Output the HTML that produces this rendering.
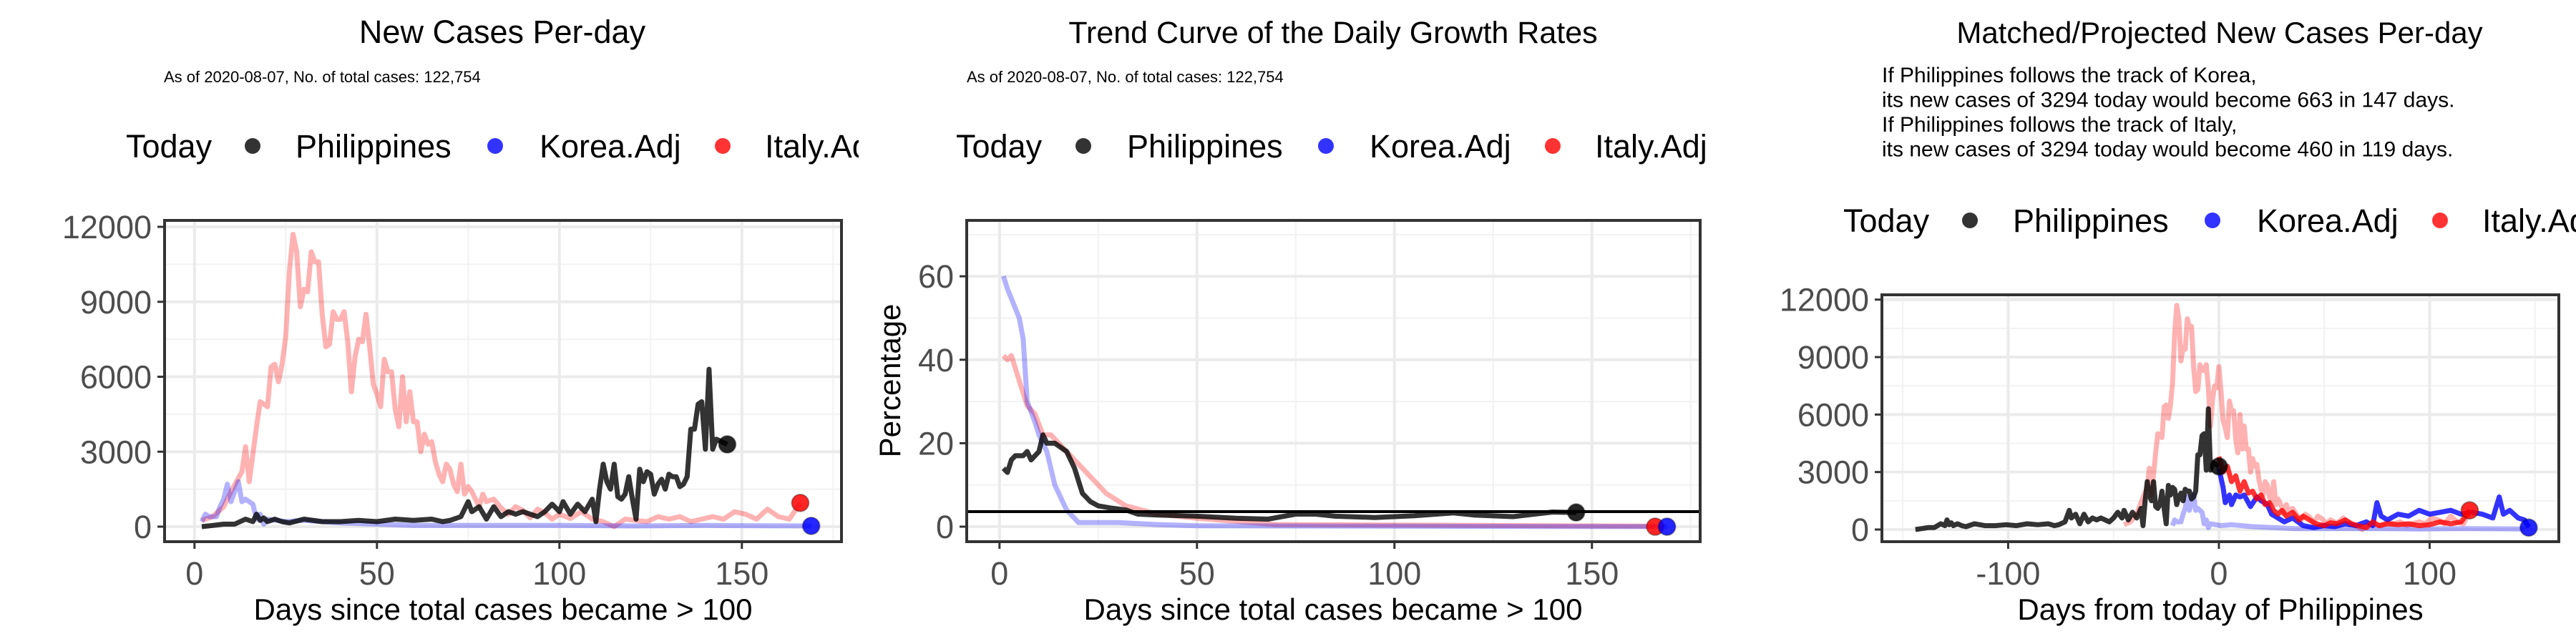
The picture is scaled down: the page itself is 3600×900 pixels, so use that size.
<!DOCTYPE html>
<html><head><meta charset="utf-8"><style>
html,body{margin:0;padding:0;background:#fff}
svg{display:block;font-family:"Liberation Sans",sans-serif}
</style></head><body>
<svg id="chart" width="3600" height="900" viewBox="0 0 3600 900" xmlns="http://www.w3.org/2000/svg">
<rect width="3600" height="900" fill="#fff"/>
<g id="p1"></g>
<g id="p2"></g>
<g id="p3"></g>
</svg>
<script>
// ---- Panel 1 data: [day, new cases]
const p1Philippines = [[2,0],[5,50],[8,100],[11,100],[14,300],[16,200],[17,500],[18,250],[19,350],[20,200],[22,300],[24,200],[26,150],[30,300],[35,200],[40,200],[45,250],[50,200],[55,300],[60,250],[65,300],[68,200],[70,250],[73,400],[75,1000],[76,600],[78,800],[80,300],[82,800],[84,400],[86,600],[88,500],[90,600],[92,500],[94,400],[96,600],[98,900],[100,600],[101,1000],[103,500],[105,900],[107,600],[109,1100],[110,200],[111,1500],[112,2500],[113,1800],[114,1500],[115,2500],[116,1200],[117,1100],[118,1300],[119,2000],[120,1100],[121,300],[122,2300],[123,1800],[124,2200],[125,2100],[126,1300],[127,1700],[128,1900],[129,1500],[130,2100],[131,2000],[132,2000],[133,1600],[134,1700],[135,2000],[136,3900],[137,3900],[138,4900],[139,5000],[140,3100],[141,6300],[142,3100],[143,3500],[146,3294]];
const p1Italy = [[2,250],[5,400],[8,800],[10,1400],[13,2200],[14,3200],[15,1800],[17,4000],[18,5000],[20,4800],[21,6400],[22,6500],[23,5800],[24,6500],[25,7600],[26,10200],[27,11700],[28,11000],[29,8800],[30,9500],[31,9400],[32,11000],[33,10600],[34,10600],[35,8500],[36,7200],[37,7300],[38,8600],[39,8300],[40,8300],[41,8600],[42,7400],[43,5400],[44,6800],[45,7500],[46,7400],[47,8500],[48,7200],[49,5700],[50,5300],[51,4800],[52,6700],[53,6200],[54,6200],[55,4700],[56,4000],[57,6000],[58,4200],[59,5400],[60,4200],[61,4200],[62,3000],[63,3700],[64,3300],[65,3400],[66,2600],[67,2100],[68,1800],[69,2500],[70,2300],[71,1700],[72,1400],[73,2500],[74,1300],[75,1600],[76,1400],[77,1100],[78,800],[79,1300],[80,1000],[82,1100],[84,750],[86,500],[88,800],[90,650],[92,350],[94,700],[96,550],[98,300],[100,500],[103,330],[106,600],[109,300],[112,200],[115,0],[118,300],[121,250],[124,200],[127,400],[130,300],[133,400],[136,200],[139,300],[142,400],[145,300],[148,600],[151,500],[154,300],[157,700],[160,400],[163,300],[166,950]];
const p1Korea = [[2,200],[3,500],[4,400],[6,400],[7,800],[8,1100],[9,1700],[10,1000],[12,1800],[13,1000],[14,1100],[16,900],[17,300],[18,500],[19,100],[20,300],[25,200],[30,250],[40,150],[50,100],[60,50],[80,50],[100,50],[120,30],[140,50],[150,40],[169,30]];
const p1XTicks = [0,50,100,150];
const p1YTicks = [0,3000,6000,9000,12000];
// ---- Panel 2 data: [day, percentage]
const p2Philippines = [[1,14],[2,13],[3,16],[4,17],[6,17],[7,18],[8,16],[10,18],[11,22],[12,20],[14,20],[17,18],[19,14],[21,8],[23,6],[25,5],[28,4.5],[32,4],[35,3],[40,2.8],[50,2.5],[60,2],[68,1.8],[75,3],[80,3],[85,2.5],[95,2.2],[105,2.6],[115,3.3],[120,2.8],[130,2.4],[140,3.5],[146,3.4]];
const p2Italy = [[1,41],[2,40],[3,41],[5,35],[7,29],[9,27],[11,22],[13,22],[15,20],[18,17],[22,13],[27,8],[32,5],[40,3],[50,2],[70,0.5],[166,0.1]];
const p2Korea = [[1,60],[2,57],[5,50],[6,45],[7,30],[9,25],[10,22],[12,18],[14,10],[17,4],[20,1],[30,1],[40,0.5],[50,0.2],[169,0]];
const p2RefLine = 3.6;
const p2XTicks = [0,50,100,150];
const p2YTicks = [0,20,40,60];
// ---- Panel 3 data
const p3PhilShift = -146, p3ItalyShift = -47, p3KoreaShift = -24;
const p3ItalyProj = [[0,3800],[2,3000],[4,3300],[6,2500],[8,2800],[10,2000],[12,2500],[14,1900],[16,2000],[18,1600],[20,1800],[22,1300],[24,1400],[26,1000],[28,800],[30,1000],[32,700],[35,900],[38,500],[40,700],[43,500],[46,300],[50,200],[53,350],[56,300],[60,500],[63,300],[66,200],[70,100],[73,400],[76,200],[80,300],[85,250],[90,300],[95,200],[100,250],[105,400],[110,300],[115,400],[119,1000]];
const p3KoreaProj = [[0,3200],[2,2200],[3,1400],[5,1800],[6,1300],[8,1800],[10,1700],[12,1800],[15,1200],[18,1700],[20,1500],[23,1300],[25,800],[28,600],[31,400],[35,600],[40,200],[45,100],[50,200],[55,150],[60,300],[65,200],[70,400],[73,200],[75,1400],[77,700],[80,500],[85,800],[90,700],[95,1000],[100,800],[105,900],[110,1000],[115,800],[120,900],[125,800],[130,600],[133,1700],[135,800],[138,1000],[142,600],[145,500],[147,100]];
const p3XTicks = [-100,0,100];
const p3YTicks = [0,3000,6000,9000,12000];

const NS="http://www.w3.org/2000/svg";
function mk(parent,tag,attrs,text){const e=document.createElementNS(NS,tag);for(const k in attrs)e.setAttribute(k,attrs[k]);if(text!==undefined)e.textContent=text;parent.appendChild(e);return e;}

function panel(g,cfg){
  const sx=v=>cfg.x0+(v-cfg.xmin)*(cfg.x1-cfg.x0)/(cfg.xmax-cfg.xmin);
  const sy=v=>cfg.y1-(v-cfg.ymin)*(cfg.y1-cfg.y0)/(cfg.ymax-cfg.ymin);
  cfg.xMinor.forEach(v=>{const l=mk(g,'line',{x1:sx(v),x2:sx(v),y1:cfg.y0,y2:cfg.y1,stroke:'#f2f2f2','stroke-width':2});});
  cfg.yMinor.forEach(v=>{const l=mk(g,'line',{x1:cfg.x0,x2:cfg.x1,y1:sy(v),y2:sy(v),stroke:'#f2f2f2','stroke-width':2});});
  cfg.xTicks.forEach(v=>{
    const l=mk(g,'line',{x1:sx(v),x2:sx(v),y1:cfg.y0,y2:cfg.y1,stroke:'#ebebeb','stroke-width':4});
    const t=mk(g,'line',{x1:sx(v),x2:sx(v),y1:cfg.y1,y2:cfg.y1+10,stroke:'#333','stroke-width':3});
    const tx=mk(g,'text',{x:sx(v),y:cfg.y1+60,'text-anchor':'middle','font-size':45,fill:'#4d4d4d'},String(v));
  });
  cfg.yTicks.forEach(v=>{
    const l=mk(g,'line',{x1:cfg.x0,x2:cfg.x1,y1:sy(v),y2:sy(v),stroke:'#ebebeb','stroke-width':4});
    const t=mk(g,'line',{x1:cfg.x0-10,x2:cfg.x0,y1:sy(v),y2:sy(v),stroke:'#333','stroke-width':3});
    const tx=mk(g,'text',{x:cfg.x0-18,y:sy(v)+16,'text-anchor':'end','font-size':45,fill:'#4d4d4d'},String(v));
  });
  const clip='clip'+cfg.id;
  const cp=mk(g,'clipPath',{id:clip});mk(cp,'rect',{x:cfg.x0,y:cfg.y0,width:cfg.x1-cfg.x0,height:cfg.y1-cfg.y0});
  const pg=mk(g,'g',{'clip-path':'url(#'+clip+')'});
  
  
  cfg.series.forEach(s=>{
    const d=s.data.map((p,i)=>(i?'L':'M')+sx(p[0]+(s.shift||0)).toFixed(1)+','+sy(p[1]).toFixed(1)).join('');
    const path=mk(pg,'path',{d:d,fill:'none',stroke:s.color,'stroke-opacity':s.op,'stroke-width':7,'stroke-linejoin':'round'});
    
    
  });
  if(cfg.hline!==undefined){const h=mk(pg,'line',{x1:cfg.x0,x2:cfg.x1,y1:sy(cfg.hline),y2:sy(cfg.hline),stroke:'#000','stroke-width':4});}
  cfg.dots.forEach(dt=>{
    const c=mk(g,'circle',{cx:sx(dt.x),cy:sy(dt.y),r:12,fill:dt.color,'fill-opacity':0.85,stroke:'#000','stroke-opacity':0.3,'stroke-width':2});
    
    
  });
  const b=mk(g,'rect',{x:cfg.x0,y:cfg.y0,width:cfg.x1-cfg.x0,height:cfg.y1-cfg.y0,fill:'none',stroke:'#333','stroke-width':4});
  
  
}
function legend(g,y,xs){
  const labels=['Today','Philippines','Korea.Adj','Italy.Adj'];const cols=['#000','#0000ff','#ff0000'];
  const t=mk(g,'text',{x:xs[0],y:y+16,'font-size':45,fill:'#000'},'Today');
  for(let i=0;i<3;i++){
    const c=mk(g,'circle',{cx:xs[1+2*i],cy:y,r:11,fill:cols[i],'fill-opacity':0.8});
    const tx=mk(g,'text',{x:xs[2+2*i],y:y+16,'font-size':45,fill:'#000'},labels[i+1]);
  }
}
function txt(g,x,y,s,size,anchor,name,rot){
  const a={x:x,y:y,'font-size':size,fill:'#000','text-anchor':anchor||'start'};if(rot)a.transform=rot;
  const t=mk(g,'text',a,s);return t;
}
const g1=document.getElementById('p1'),g2=document.getElementById('p2'),g3=document.getElementById('p3');
// Panel 1
txt(g1,702,60,'New Cases Per-day',45,'middle','chart-title');
txt(g1,229,115,'As of 2020-08-07, No. of total cases: 122,754',22,'start','subtitle');
const cl1=mk(g1,'clipPath',{id:'lc1'});mk(cl1,'rect',{x:0,y:0,width:1200,height:900});
const lg1=mk(g1,'g',{'clip-path':'url(#lc1)'});
legend(lg1,204,[176,353,413,692,754,1010,1069]);
panel(g1,{id:1,x0:230,x1:1176,y0:308,y1:757,xmin:-8.2,xmax:177.3,ymin:-601,ymax:12258,xTicks:p1XTicks,yTicks:p1YTicks,xMinor:[25,75,125,175],yMinor:[1500,4500,7500,10500],
  series:[{data:p1Italy,color:'#ff0000',op:0.3,name:'italy-line'},{data:p1Korea,color:'#0000ff',op:0.3,name:'korea-line'},{data:p1Philippines,color:'#000',op:0.8,name:'philippines-line'}],
  dots:[{x:146,y:3294,color:'#000',name:'philippines-today'},{x:166,y:950,color:'#ff0000',name:'italy-today'},{x:169,y:30,color:'#0000ff',name:'korea-today'}]});
txt(g1,703,866,'Days since total cases became > 100',42,'middle','x-axis-title');
// Panel 2
txt(g2,1863,60,'Trend Curve of the Daily Growth Rates',43,'middle','chart-title');
txt(g2,1351,115,'As of 2020-08-07, No. of total cases: 122,754',22,'start','subtitle');
const cl2=mk(g2,'clipPath',{id:'lc2'});mk(cl2,'rect',{x:1200,y:0,width:1200,height:900});
const lg2=mk(g2,'g',{'clip-path':'url(#lc2)'});
legend(lg2,204,[1336,1514,1575,1853,1914,2170,2229]);
panel(g2,{id:2,x0:1351,x1:2376,y0:308,y1:757,xmin:-8.3,xmax:177.4,ymin:-3.6,ymax:73.4,xTicks:p2XTicks,yTicks:p2YTicks,xMinor:[25,75,125,175],yMinor:[10,30,50,70],hline:p2RefLine,
  series:[{data:p2Italy,color:'#ff0000',op:0.3,name:'italy-line'},{data:p2Korea,color:'#0000ff',op:0.3,name:'korea-line'},{data:p2Philippines,color:'#000',op:0.8,name:'philippines-line'}],
  dots:[{x:146,y:3.4,color:'#000',name:'philippines-today'},{x:166,y:0,color:'#ff0000',name:'italy-today'},{x:169,y:0,color:'#0000ff',name:'korea-today'}]});
txt(g2,1863,866,'Days since total cases became > 100',42,'middle','x-axis-title');
txt(g2,0,0,'Percentage',42,'middle','y-axis-title','translate(1258,532) rotate(-90)');
// Panel 3
txt(g3,3102,60,'Matched/Projected New Cases Per-day',42,'middle','chart-title');
['If Philippines follows the track of Korea,','its new cases of 3294 today would become 663 in 147 days.','If Philippines follows the track of Italy,','its new cases of 3294 today would become 460 in 119 days.'].forEach((s,i)=>txt(g3,2630,115+i*34.5,s,30,'start','projection-note'));
const cl3=mk(g3,'clipPath',{id:'lc3'});mk(cl3,'rect',{x:2400,y:0,width:1200,height:900});
const lg3=mk(g3,'g',{'clip-path':'url(#lc3)'});
legend(lg3,308,[2576,2753,2813,3092,3154,3410,3469]);
panel(g3,{id:3,x0:2630,x1:3576,y0:412,y1:757,xmin:-159.9,xmax:161.3,ymin:-635,ymax:12250,xTicks:p3XTicks,yTicks:p3YTicks,xMinor:[-150,-50,50,150],yMinor:[1500,4500,7500,10500],
  series:[{data:p1Italy,shift:p3ItalyShift,color:'#ff0000',op:0.3,name:'italy-matched-line'},{data:p1Korea,shift:p3KoreaShift,color:'#0000ff',op:0.3,name:'korea-matched-line'},{data:p1Philippines,shift:p3PhilShift,color:'#000',op:0.8,name:'philippines-line'},{data:p3KoreaProj,color:'#0000ff',op:0.8,name:'korea-projected-line'},{data:p3ItalyProj,color:'#ff0000',op:0.8,name:'italy-projected-line'}],
  dots:[{x:0,y:3294,color:'#000',name:'philippines-today'},{x:119,y:1000,color:'#ff0000',name:'italy-projected-end'},{x:147,y:100,color:'#0000ff',name:'korea-projected-end'}]});
txt(g3,3103,866,'Days from today of Philippines',42,'middle','x-axis-title');
</script>
</body></html>
